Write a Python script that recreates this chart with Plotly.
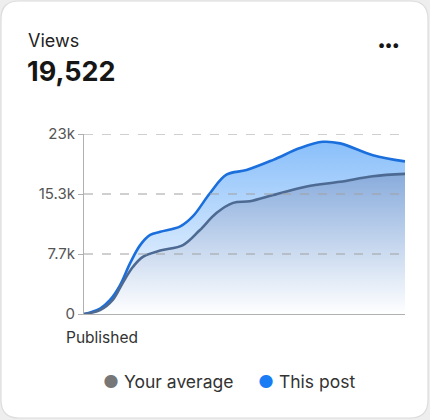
import plotly.graph_objects as go

# ---- data (values in thousands of views) ----
hours_post = [0, 2.4, 3.9, 5.4, 6.9, 8.4, 9.9, 11.4, 14.4, 16.3, 18.8, 21.3, 24.3, 28.3, 32.3, 35.7, 38.3, 43.2, 48]
views_post = [0, 0.7, 1.8, 3.7, 6.5, 8.8, 10.1, 10.5, 11.2, 12.5, 15.4, 17.8, 18.4, 19.7, 21.2, 22.0, 21.8, 20.3, 19.5]
hours_avg = [0, 2.4, 4.3, 5.8, 7.3, 8.8, 11.4, 14.8, 17.3, 19.8, 22.3, 24.8, 28.3, 33.3, 38.3, 43.2, 48]
views_avg = [0, 0.5, 1.8, 4.0, 6.0, 7.3, 8.1, 8.8, 10.7, 12.9, 14.2, 14.4, 15.2, 16.3, 16.9, 17.6, 17.9]
tick_vals = [0, 7.667, 15.333, 23]
tick_text = ["0", "7.7k", "15.3k", "23k"]
series_names = ["Your average", "This post"]
total_views = "19,522"

W, H = 430, 420
L, R, T, B = 84, 25, 134, 106
PW, PH = W - L - R, H - T - B

def px(x):
    return (x - L) / PW

def py(y):
    return (H - B - y) / PH

fig = go.Figure()
fig.add_trace(go.Scatter(
    x=hours_post, y=views_post, mode="lines",
    line=dict(color="#1a6fdc", width=2.6, shape="spline", smoothing=1.0),
    fill="tozeroy",
    fillgradient=dict(type="vertical", start=0, stop=23,
                      colorscale=[[0, "rgba(255,255,255,1)"], [1, "#84bcfa"]]),
    name=series_names[1], showlegend=False, hoverinfo="skip"))
fig.add_trace(go.Scatter(
    x=hours_avg, y=views_avg, mode="lines",
    line=dict(color="#4d6a92", width=2.6, shape="spline", smoothing=1.0),
    fill="tozeroy",
    fillgradient=dict(type="vertical", start=0, stop=23,
                      colorscale=[[0, "rgba(255,255,255,1)"], [1, "#6794d2"]]),
    name=series_names[0], showlegend=False, hoverinfo="skip"))

# rounded card
x0, y0, x1, y1, r = 1, 1, 428, 418, 18
path = (f"M {px(x0+r)},{py(y0)} L {px(x1-r)},{py(y0)} Q {px(x1)},{py(y0)} {px(x1)},{py(y0+r)} "
        f"L {px(x1)},{py(y1-r)} Q {px(x1)},{py(y1)} {px(x1-r)},{py(y1)} "
        f"L {px(x0+r)},{py(y1)} Q {px(x0)},{py(y1)} {px(x0)},{py(y1-r)} "
        f"L {px(x0)},{py(y0+r)} Q {px(x0)},{py(y0)} {px(x0+r)},{py(y0)} Z")
shapes = [dict(type="path", xref="paper", yref="paper", path=path, fillcolor="white",
               line=dict(color="#dcdcdc", width=1.2), layer="below")]
# dashed gridlines drawn above the fills
for v in tick_vals[1:]:
    shapes.append(dict(type="line", xref="paper", yref="y", x0=0, x1=1, y0=v, y1=v,
                       line=dict(color="#a0a0a0", width=1, dash="dash"), layer="above"))

font = "Inter, Noto Sans, sans-serif"
annotations = [
    dict(text="Views", x=px(26), y=py(40), xref="paper", yref="paper", xanchor="left", yanchor="middle",
         showarrow=False, font=dict(size=18, color="#222", family=font)),
    dict(text=f"<b>{total_views}</b>", x=px(25), y=py(72), xref="paper", yref="paper", xanchor="left",
         yanchor="middle", showarrow=False, font=dict(size=27, color="#161616", family=font)),
    dict(text="<b>•••</b>", x=px(388), y=py(44), xref="paper", yref="paper", xanchor="center",
         yanchor="middle", showarrow=False, font=dict(size=15, color="#161616", family=font)),
    dict(text="Published", x=px(64), y=py(337), xref="paper", yref="paper", xanchor="left",
         yanchor="middle", showarrow=False, font=dict(size=15.5, color="#333", family=font)),
    dict(text=f"<span style='color:#777777'>●</span> {series_names[0]}     "
              f"<span style='color:#1a7cf5'>●</span> {series_names[1]}",
         x=px(229), y=py(381), xref="paper", yref="paper", xanchor="center", yanchor="middle",
         showarrow=False, font=dict(size=17.5, color="#333", family=font)),
]

fig.update_layout(
    width=W, height=H, margin=dict(l=L, r=R, t=T, b=B),
    paper_bgcolor="#eeeeee", plot_bgcolor="rgba(0,0,0,0)",
    shapes=shapes, annotations=annotations, showlegend=False,
    font=dict(family=font),
    xaxis=dict(range=[0, 48], showgrid=False, zeroline=False, showticklabels=False, ticks="",
               showline=True, linecolor="#b0b0b0", linewidth=1, fixedrange=True),
    yaxis=dict(range=[0, 23], tickvals=tick_vals, ticktext=tick_text, showgrid=False,
               zeroline=False, layer="above traces",
               showline=True, linecolor="#b0b0b0", linewidth=1, ticks="outside", ticklen=5,
               tickcolor="#b0b0b0", tickfont=dict(size=15, color="#555", family=font), fixedrange=True),
)

fig.write_html("out.html", config={"displayModeBar": False},
               post_script="document.body.style.margin='0';document.body.style.overflow='hidden';")
